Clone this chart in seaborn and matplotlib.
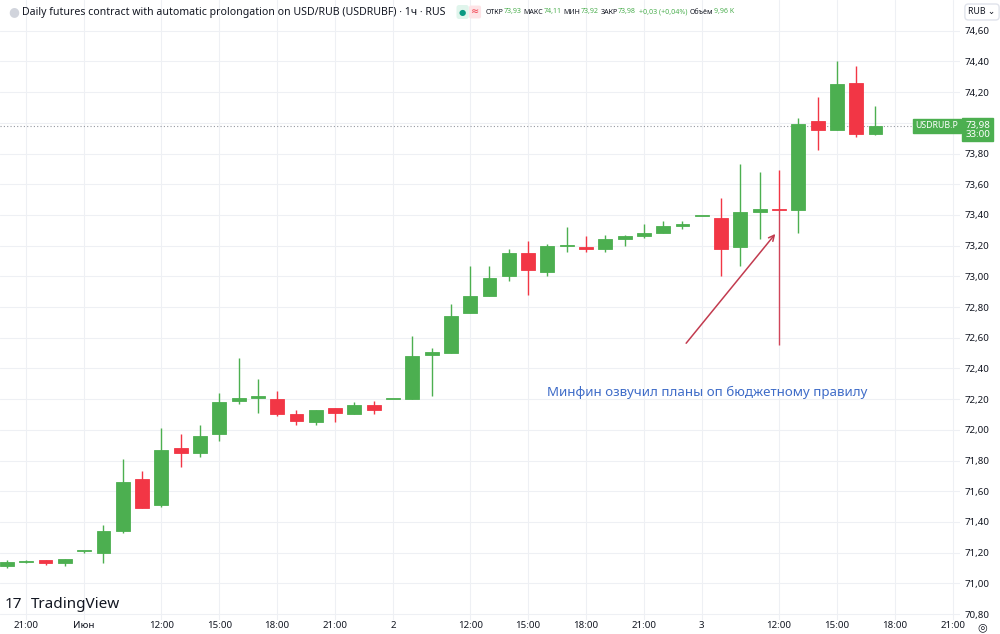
import matplotlib
matplotlib.use('Agg')
import matplotlib.pyplot as plt
import seaborn as sns
import numpy as np

# hourly candles USDRUBF
opens = [71.11, 71.14, 71.15, 71.13, 71.21, 71.20, 71.34, 71.68, 71.51, 71.88,
         71.85, 71.97, 72.19, 72.21, 72.20, 72.10, 72.05, 72.14, 72.10, 72.16,
         72.20, 72.20, 72.49, 72.50, 72.76, 72.87, 73.00, 73.15, 73.03, 73.20,
         73.19, 73.18, 73.24, 73.26, 73.28, 73.33, 73.39, 73.38, 73.19, 73.42,
         73.44, 73.43, 74.01, 73.95, 74.26, 73.93]
highs = [71.15, 71.15, 71.15, 71.16, 71.21, 71.38, 71.81, 71.73, 72.01, 71.97,
         72.03, 72.24, 72.47, 72.33, 72.25, 72.13, 72.13, 72.14, 72.18, 72.19,
         72.20, 72.61, 72.53, 72.82, 73.07, 73.07, 73.18, 73.23, 73.21, 73.32,
         73.26, 73.27, 73.27, 73.34, 73.36, 73.36, 73.39, 73.51, 73.73, 73.68,
         73.69, 74.03, 74.17, 74.40, 74.37, 74.11]
lows = [71.10, 71.13, 71.12, 71.11, 71.20, 71.13, 71.33, 71.49, 71.50, 71.76,
        71.82, 71.93, 72.17, 72.11, 72.09, 72.03, 72.03, 72.05, 72.10, 72.10,
        72.20, 72.20, 72.22, 72.50, 72.76, 72.87, 72.97, 72.88, 73.00, 73.16,
        73.16, 73.16, 73.20, 73.25, 73.28, 73.31, 73.39, 73.00, 73.07, 73.24,
        73.43, 73.28, 73.82, 73.95, 73.91, 73.92]
closes = [71.14, 71.14, 71.13, 71.16, 71.21, 71.34, 71.66, 71.49, 71.87, 71.85,
          71.96, 72.18, 72.21, 72.22, 72.10, 72.06, 72.13, 72.11, 72.16, 72.13,
          72.20, 72.48, 72.51, 72.74, 72.87, 72.99, 73.15, 73.04, 73.20, 73.20,
          73.18, 73.24, 73.26, 73.28, 73.33, 73.34, 73.39, 73.18, 73.42, 73.44,
          73.43, 73.99, 73.95, 74.25, 73.93, 73.98]

tick_pos = [1, 4, 8, 11, 14, 17, 20, 24, 27, 30, 33, 36, 40, 43, 46, 49]
tick_labels = ['21:00', 'Июн', '12:00', '15:00', '18:00', '21:00', '2', '12:00',
               '15:00', '18:00', '21:00', '3', '12:00', '15:00', '18:00', '21:00']
price_ticks = [70.8, 71.0, 71.2, 71.4, 71.6, 71.8, 72.0, 72.2, 72.4, 72.6,
               72.8, 73.0, 73.2, 73.4, 73.6, 73.8, 74.0, 74.2, 74.4, 74.6]

last_price = 73.98
note_text = 'Минфин озвучил планы оп бюджетному правилу'
note_bar = 40
note_line = (72.55, 73.43)
arrow_from = (35.1, 72.55)
arrow_to = (39.9, 73.29)

GREEN = '#4caf50'
RED = '#f23645'
TXT = '#131722'

sns.set_style('white')
plt.rcParams['font.family'] = ['Noto Sans', 'DejaVu Sans']

fig = plt.figure(figsize=(10, 6.34), dpi=100)
ax = fig.add_axes([0, 14 / 634, 0.96, 1 - 14 / 634])

idx = np.arange(len(opens))
o = np.array(opens); c = np.array(closes)
colors = [GREEN if cc >= oo else RED for oo, cc in zip(o, c)]
bottom = np.minimum(o, c)
height = np.maximum(np.abs(c - o), 0.007)

ax.vlines(idx, lows, highs, colors=colors, lw=1.0, zorder=3)
ax.bar(idx, height, bottom=bottom, width=0.72, color=colors, edgecolor=colors,
       lw=0.6, zorder=4)

ax.set_xlim(-0.36, 49.38)
ax.set_ylim(70.761, 74.80)

ax.set_xticks(tick_pos)
ax.set_xticklabels(tick_labels, fontsize=7, color=TXT)
ax.set_yticks(price_ticks)
ax.set_yticklabels([f'{v:.2f}'.replace('.', ',') for v in price_ticks],
                   fontsize=7, color=TXT)
ax.yaxis.tick_right()
ax.tick_params(axis='both', length=0, pad=3)
ax.tick_params(axis='x', pad=1)
ax.grid(True, color='#eef0f4', lw=0.8, zorder=0)
for s in ax.spines.values():
    s.set_visible(False)

# last price line and labels
ax.axhline(last_price, color='#9598a1', lw=0.8, ls=(0, (1, 2)), zorder=2)
ax.text(49.3, last_price, 'USDRUB.P', ha='right', va='center', fontsize=6.3,
        color='white', zorder=6,
        bbox=dict(boxstyle='square,pad=0.25', fc=GREEN, ec=GREEN))
ax.text(1.0185, last_price + 0.035, '73,98\n33:00', transform=ax.get_yaxis_transform(),
        ha='center', va='top', fontsize=7, color='white', linespacing=1.0,
        zorder=6, clip_on=False,
        bbox=dict(boxstyle='square,pad=0.3', fc=GREEN, ec=GREEN))

# annotation
ax.vlines(note_bar, note_line[0], note_line[1], color='#d0455a', lw=1.0, zorder=5)
ax.annotate('', xy=arrow_to, xytext=arrow_from,
            arrowprops=dict(arrowstyle='->', color='#c23b4f', lw=1.1), zorder=5)
ax.text(36.3, 72.245, note_text, ha='center', va='center', fontsize=9.6,
        color='#3f6cc8', zorder=6)

# header
hy = 1 - 12 / 634
fig.text(8 / 1000, hy, '●', fontsize=9, color='#d1d4dc', va='center')
fig.text(22 / 1000, hy,
         'Daily futures contract with automatic prolongation on USD/RUB (USDRUBF) · 1ч · RUS',
         fontsize=7.6, color=TXT, va='center')
fig.text(459 / 1000, hy, '●', fontsize=6, color='#089981', va='center',
         bbox=dict(boxstyle='round,pad=0.3', fc='#e0f5ec', ec='none'))
fig.text(471 / 1000, hy, '≈', fontsize=7, color='#f23645', va='center',
         bbox=dict(boxstyle='round,pad=0.2', fc='#fde3e6', ec='none'))

hdr = [('ОТКР', TXT, 0), ('73,93', GREEN, 2), ('МАКС', TXT, 0), ('74,11', GREEN, 2),
       ('МИН', TXT, 0), ('73,92', GREEN, 2), ('ЗАКР', TXT, 0), ('73,98', GREEN, 3),
       ('+0,03 (+0,04%)', GREEN, 3), ('Объём', TXT, 0), ('9,96 K', GREEN, 0)]
renderer = fig.canvas.get_renderer()
xpix = 486
for s, col, gap in hdr:
    t = fig.text(xpix / 1000, hy, s, fontsize=5.1, color=col, va='center')
    xpix += t.get_window_extent(renderer).width + gap
fig.text(982 / 1000, hy, 'RUB ⌄', fontsize=6.3, color=TXT, va='center',
         ha='center', bbox=dict(boxstyle='round,pad=0.4', fc='white', ec='#e0e3eb'))

# logo and corner icon
fig.text(5 / 1000, 1 - 604 / 634, '17', fontsize=11, fontweight='black',
         color=TXT, va='center')
fig.text(31 / 1000, 1 - 604 / 634, 'TradingView', fontsize=11, fontweight='bold',
         color=TXT, va='center')
fig.text(982 / 1000, 1 - 628 / 634, '◎', fontsize=8, color=TXT, va='center',
         ha='center')

fig.savefig('out.png', dpi=100)
